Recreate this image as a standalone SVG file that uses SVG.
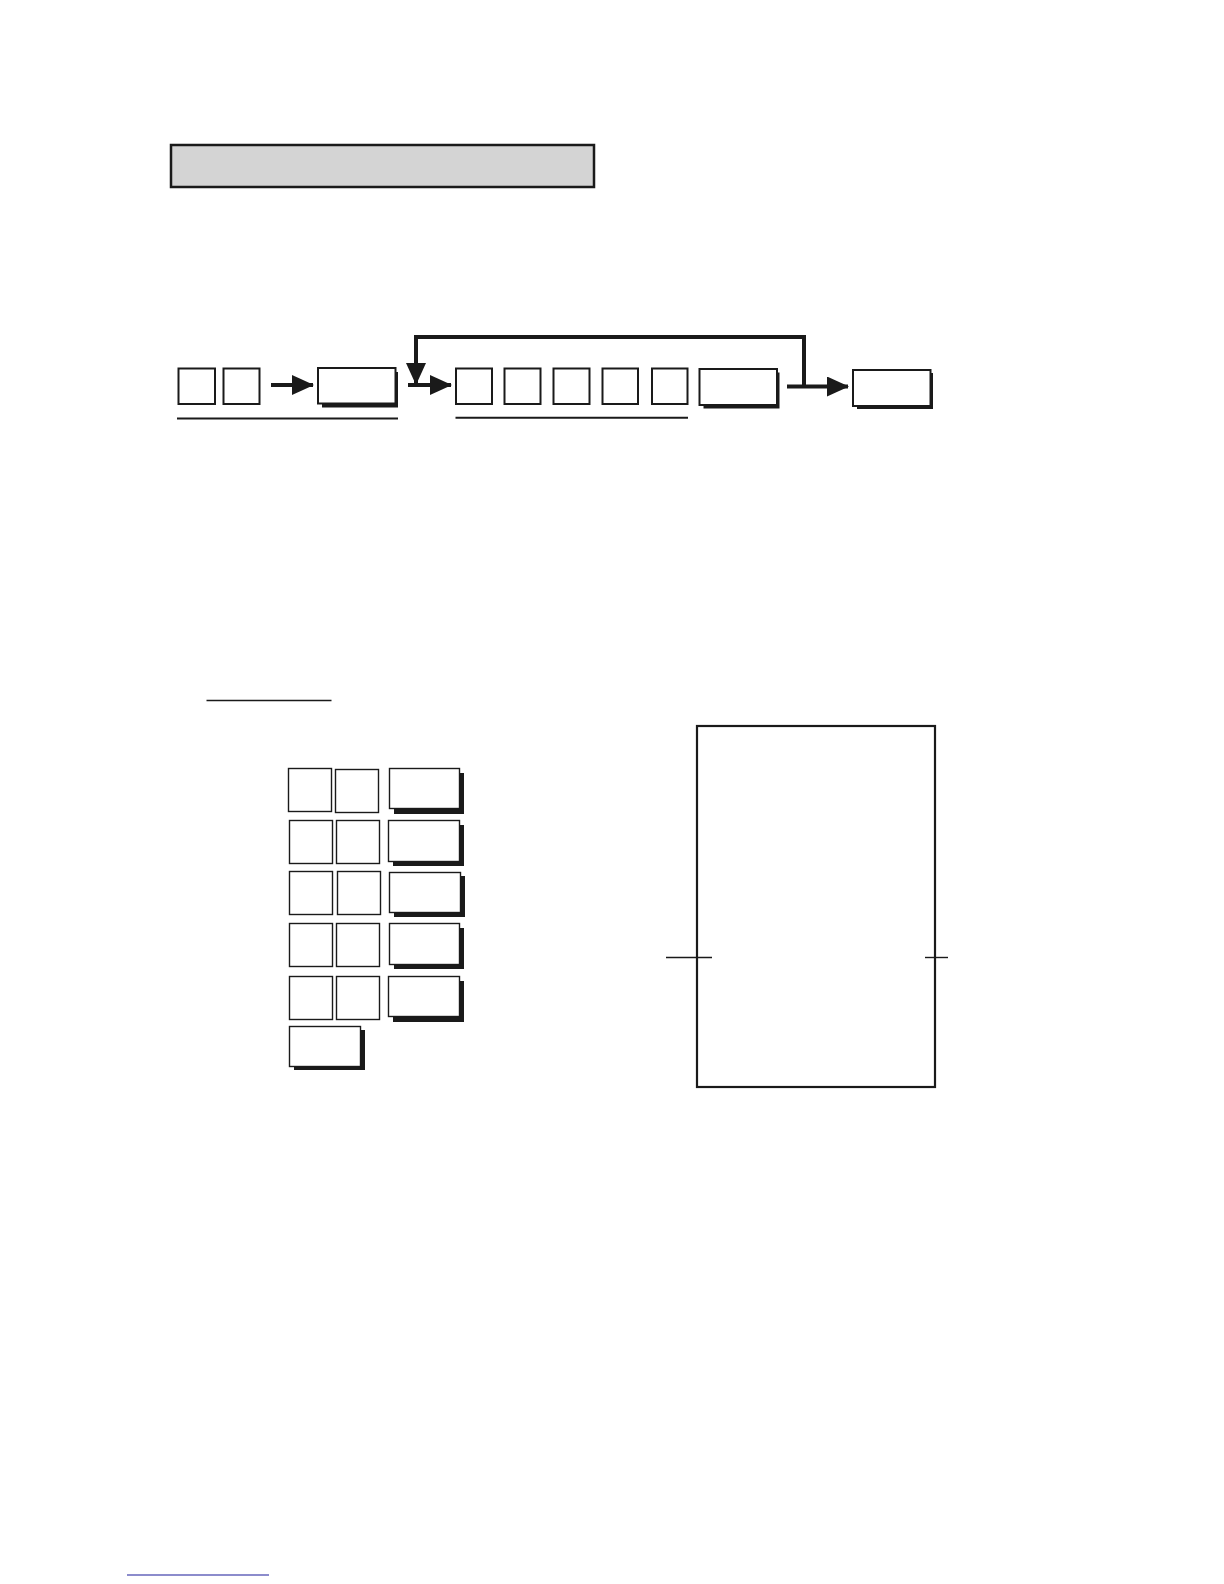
<svg xmlns="http://www.w3.org/2000/svg" width="1224" height="1584" viewBox="0 0 1224 1584">
<style>
.key{fill:#fff;stroke:#1a1a1a;stroke-width:2}
.keyt{fill:#fff;stroke:#1a1a1a;stroke-width:1.4}
.shadow{fill:#1a1a1a}
.thick{fill:none;stroke:#1a1a1a;stroke-width:4}
.rule{stroke:#1a1a1a;stroke-width:2}
.thin{stroke:#1a1a1a;stroke-width:1.4}
</style>
<defs>
<marker id="ah" markerUnits="userSpaceOnUse" markerWidth="22" markerHeight="20" refX="21" refY="10" orient="auto">
<path d="M0,0 L22,10 L0,20 Z" fill="#1a1a1a"/>
</marker>
</defs>
<rect width="1224" height="1584" fill="#fff"/>
<g id="header">
<rect x="171" y="145" width="423" height="42" fill="#d4d4d4" stroke="#1a1a1a" stroke-width="2.5"/>
</g>
<g id="connectors">
<line x1="271" y1="385" x2="313" y2="385" class="thick" marker-end="url(#ah)"/>
<line x1="408" y1="385" x2="451" y2="385" class="thick" marker-end="url(#ah)"/>
<polyline points="804,386.5 804,337 416,337 416,384" class="thick" marker-end="url(#ah)"/>
<line x1="787" y1="386.5" x2="848" y2="386.5" class="thick" marker-end="url(#ah)"/>
</g>
<g id="seq1">
<rect x="178.5" y="368.5" width="36.5" height="35.5" class="key"/>
<rect x="223.5" y="368.5" width="36" height="35.5" class="key"/>
<line x1="177" y1="418.5" x2="398" y2="418.5" class="rule"/>
</g>
<g id="key1">
<rect x="322" y="372" width="76" height="35.5" class="shadow"/>
<rect x="318" y="368" width="77.5" height="35.5" class="key"/>
</g>
<g id="seq2">
<rect x="456" y="368.5" width="36" height="35.5" class="key"/>
<rect x="504.5" y="368.5" width="36" height="35.5" class="key"/>
<rect x="553.5" y="368.5" width="36" height="35.5" class="key"/>
<rect x="602.5" y="368.5" width="35.5" height="35.5" class="key"/>
<rect x="652" y="368.5" width="35.5" height="35.5" class="key"/>
<line x1="455.5" y1="417.7" x2="688" y2="417.7" class="rule"/>
</g>
<g id="key2">
<rect x="703.5" y="372.5" width="76" height="36" class="shadow"/>
<rect x="699.5" y="369" width="77.5" height="36" class="key"/>
</g>
<g id="key3">
<rect x="857" y="373" width="76" height="36" class="shadow"/>
<rect x="853" y="370" width="77.5" height="36" class="key"/>
</g>
<g id="example-rule">
<line x1="206.5" y1="700.5" x2="331.5" y2="700.5" class="thin"/>
</g>
<g id="keypad">
<rect x="288.5" y="768.5" width="43" height="43" class="keyt"/>
<rect x="335.5" y="769.5" width="43" height="43" class="keyt"/>
<rect x="394" y="773" width="70" height="41" class="shadow"/>
<rect x="389.5" y="768.5" width="70" height="40" class="keyt"/>

<rect x="289.5" y="820.5" width="43" height="43" class="keyt"/>
<rect x="336.5" y="820.5" width="43" height="43" class="keyt"/>
<rect x="393" y="825" width="71" height="41" class="shadow"/>
<rect x="388.5" y="820.5" width="71" height="41" class="keyt"/>

<rect x="289.5" y="871.5" width="43" height="43" class="keyt"/>
<rect x="337.5" y="871.5" width="43" height="43" class="keyt"/>
<rect x="394" y="876" width="71" height="41" class="shadow"/>
<rect x="389.5" y="872.5" width="71" height="40" class="keyt"/>

<rect x="289.5" y="923.5" width="43" height="43" class="keyt"/>
<rect x="336.5" y="923.5" width="43" height="43" class="keyt"/>
<rect x="394" y="928" width="70" height="41" class="shadow"/>
<rect x="389.5" y="923.5" width="70" height="41" class="keyt"/>

<rect x="289.5" y="976.5" width="43" height="43" class="keyt"/>
<rect x="336.5" y="976.5" width="43" height="43" class="keyt"/>
<rect x="393" y="981" width="71" height="41" class="shadow"/>
<rect x="388.5" y="976.5" width="71" height="40" class="keyt"/>

<rect x="294" y="1030" width="71" height="40" class="shadow"/>
<rect x="289.5" y="1026.5" width="71" height="40" class="keyt"/>
</g>
<g id="receipt">
<rect x="697" y="726" width="238" height="361" fill="#fff" stroke="#1a1a1a" stroke-width="2.2"/>
<line x1="666" y1="957.5" x2="712" y2="957.5" class="thin"/>
<line x1="925" y1="957.5" x2="948" y2="957.5" class="thin"/>
</g>
<g id="footer">
<line x1="127" y1="1575" x2="269" y2="1575" stroke="#1a1a9a" stroke-width="1.2"/>
</g>
</svg>
